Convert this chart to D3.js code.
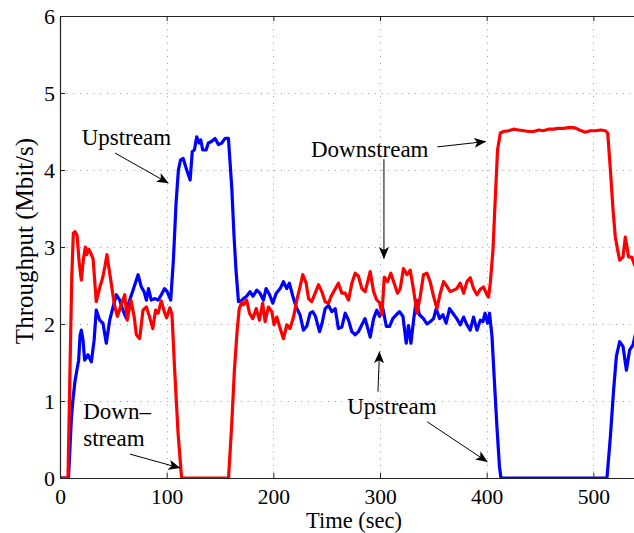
<!DOCTYPE html>
<html>
<head>
<meta charset="utf-8">
<script src="https://cdn.jsdelivr.net/npm/d3@7"></script>
<style>
  html, body { margin: 0; padding: 0; background: #fff; }
  svg { display: block; }
  text { font-family: "Liberation Serif", "Times New Roman", serif; fill: #000; }
</style>
</head>
<body>
<svg id="chart" width="634" height="533"></svg>
<script>
// ---------------- data ----------------
const xTicks = [0, 100, 200, 300, 400, 500];
const yTicks = [0, 1, 2, 3, 4, 5, 6];
const xLabel = "Time (sec)";
const yLabel = "Throughput (Mbit/s)";

const downTime = [0, 7.5, 9.5, 11, 12.5, 14, 16, 18, 20, 22, 23.8, 25, 27, 28.5, 31, 34, 37, 40, 42, 44, 48, 51, 53.8, 57.6, 60.7, 63, 66.5, 69.6, 71.6, 74.7, 77.8, 81, 84, 87, 89.6, 92, 95, 98, 100, 103, 105, 107.5, 110.7, 114,
  158, 161, 163.5, 166, 168, 170.5, 172, 175, 177.7, 180.7, 184, 187, 190, 192.3, 195.4, 198.6, 200.7, 203.2, 206.4, 209.5, 212.6, 215.7, 218.9, 222, 225, 227.6, 230.8, 233, 236, 239.2, 242.3, 245.5, 248.6, 251.8, 254.2, 257.4, 261, 264.2, 267.4, 270.5, 273.6, 276.7, 279.8, 283, 286.1, 290.8, 294, 297, 299.6, 301.8, 304, 307, 310.2, 313.3, 316.4, 319, 322, 325.3, 328.3, 331.5, 334.6, 337.7, 340.8, 344, 347, 350.2, 353.4, 356.5, 359.6, 362.7, 365.8, 369, 372, 375.2, 378.4, 381.5, 384.6, 387.7, 390.9, 394, 397, 400.3, 401.8, 403.4, 405.9, 408, 410.2, 412.8, 415.9, 420.6, 425.2, 430, 435, 439.3, 444, 449, 453, 458, 462.8, 467, 472, 476.8, 481, 484, 487, 492.5, 497, 502, 507, 511.3, 513.5, 516, 518.5, 520.6, 522.8, 524.7, 527.8, 530, 533.1, 536, 538.5, 542, 546];
const downValues = [0, 0, 1.5, 2.6, 3.18, 3.2, 3.15, 2.8, 2.57, 2.85, 3.0, 2.9, 2.97, 2.93, 2.85, 2.29, 2.46, 2.6, 2.74, 2.9, 2.53, 2.25, 2.1, 2.26, 2.38, 2.05, 2.31, 2.09, 1.86, 1.81, 2.18, 2.22, 2.09, 1.94, 2.18, 2.14, 2.3, 2.15, 2.08, 2.21, 2.12, 1.4, 0.58, 0,
  0, 0.7, 1.4, 1.9, 2.2, 2.28, 2.25, 2.31, 2.14, 2.07, 2.2, 2.05, 2.27, 2.03, 2.22, 2.16, 1.99, 2.09, 1.94, 1.81, 1.99, 1.94, 2.09, 2.31, 2.48, 2.64, 2.53, 2.33, 2.29, 2.4, 2.51, 2.42, 2.29, 2.27, 2.36, 2.44, 2.53, 2.4, 2.4, 2.31, 2.53, 2.66, 2.62, 2.46, 2.42, 2.68, 2.42, 2.31, 2.28, 2.12, 2.61, 2.55, 2.66, 2.53, 2.4, 2.46, 2.72, 2.64, 2.7, 2.44, 2.14, 2.36, 2.64, 2.66, 2.55, 2.36, 2.2, 2.4, 2.55, 2.49, 2.42, 2.44, 2.46, 2.53, 2.4, 2.55, 2.6, 2.46, 2.38, 2.45, 2.48, 2.38, 2.35, 2.53, 2.96, 3.61, 4.26, 4.48, 4.5, 4.51, 4.53, 4.52, 4.51, 4.5, 4.5, 4.52, 4.51, 4.53, 4.53, 4.54, 4.54, 4.55, 4.55, 4.54, 4.52, 4.49, 4.51, 4.51, 4.52, 4.51, 4.48, 4.0, 3.48, 3.13, 2.96, 2.83, 2.87, 3.13, 2.87, 2.87, 2.77, 2.7, 2.6];

const upTime = [0, 8, 10.6, 12, 14, 15.3, 17.5, 18.8, 20, 21.6, 23.1, 26.2, 29.4, 32, 34, 37.2, 40.3, 43.4, 46.6, 49.7, 52.8, 56, 59, 62, 64.3, 67.5, 70.6, 73.2, 76.3, 78.8, 81, 83, 85.6, 88.7, 92, 95, 98, 100.5, 103.8, 106.3, 108.8, 111, 113, 115.5, 118.8, 122, 124, 126, 128.2, 130.4, 132, 133.8, 137, 139, 142, 145.4, 148.5, 151.7, 154.8, 157.9, 161, 163.2, 165, 167.3, 170, 172, 175, 178.2, 181, 184.5, 187.5, 190.7, 193.2, 196.5, 199.5, 202.7, 206.4, 209.5, 212.6, 215, 218.3, 221.4, 225, 228.2, 231.3, 234.5, 237, 239.5, 243.3, 245.5, 248.6, 251.8, 254.9, 258, 261, 264.2, 267.4, 270.5, 273.6, 276.7, 279.8, 283, 286, 290.8, 294, 297, 299.6, 302.7, 305.9, 309, 312, 315.3, 318.3, 321.5, 324.6, 326.7, 329, 331.5, 334, 337, 340.8, 344, 347, 350.2, 352.7, 355.8, 359, 362, 365.2, 368.3, 372, 375.2, 378.4, 381.5, 384.6, 387.7, 390.9, 394, 396.5, 398.5, 400.8, 402.7, 405, 407, 409.6, 412, 413.4, 512.8, 516, 519, 521.6, 524.7, 527.8, 531, 534, 537.2, 540, 546];
const upValues = [0, 0, 0.75, 1.0, 1.25, 1.36, 1.53, 1.85, 1.92, 1.79, 1.53, 1.6, 1.51, 1.79, 2.18, 2.05, 2.01, 1.75, 2.05, 2.22, 2.38, 2.31, 2.18, 2.08, 2.27, 2.4, 2.53, 2.64, 2.48, 2.42, 2.31, 2.46, 2.31, 2.33, 2.31, 2.38, 2.46, 2.42, 2.31, 2.83, 3.57, 4.0, 4.13, 4.15, 4.0, 3.87, 4.24, 4.26, 4.43, 4.35, 4.39, 4.26, 4.26, 4.35, 4.37, 4.41, 4.33, 4.35, 4.41, 4.41, 3.78, 3.13, 2.7, 2.29, 2.3, 2.33, 2.36, 2.42, 2.36, 2.44, 2.4, 2.31, 2.46, 2.38, 2.27, 2.4, 2.46, 2.55, 2.46, 2.53, 2.36, 2.22, 2.12, 1.92, 1.97, 2.14, 2.16, 2.1, 1.9, 2.0, 2.2, 2.24, 2.16, 2.2, 1.94, 1.96, 2.14, 2.05, 1.9, 1.86, 1.9, 1.99, 2.07, 1.83, 2.07, 2.18, 2.1, 2.2, 1.97, 1.97, 2.07, 2.12, 2.16, 2.1, 1.75, 1.98, 1.75, 2.05, 2.31, 2.12, 2.07, 2.0, 2.03, 2.07, 2.2, 2.07, 2.12, 2.01, 2.2, 2.14, 2.07, 1.99, 2.09, 1.99, 1.92, 2.09, 1.92, 2.05, 2.03, 2.14, 2.01, 2.14, 1.84, 1.32, 0.67, 0.15, 0, 0, 0.54, 1.14, 1.58, 1.77, 1.71, 1.4, 1.66, 1.73, 1.9, 2.1];

const annotationTexts = ["Upstream", "Downstream", "Down\u2013", "stream", "Upstream"];

// ---------------- chart ----------------
const svg = d3.select("#chart");
const x = d3.scaleLinear().domain([0, 600]).range([60, 700]);
const y = d3.scaleLinear().domain([0, 6]).range([478, 16]);

const defs = svg.append("defs");
defs.append("clipPath").attr("id", "plotclip")
  .append("rect").attr("x", 60).attr("y", 16).attr("width", 640).attr("height", 462);

// grid
const grid = svg.append("g").attr("stroke", "#9a9a9a").attr("stroke-width", 1).attr("stroke-dasharray", "1,5.7");
grid.selectAll("line.vx").data(xTicks.slice(1)).join("line")
  .attr("x1", d => Math.round(x(d)) + 0.5).attr("x2", d => Math.round(x(d)) + 0.5)
  .attr("y1", y(6)).attr("y2", y(0));
grid.selectAll("line.hy").data(yTicks.slice(1, -1)).join("line")
  .attr("x1", x(0)).attr("x2", x(600))
  .attr("y1", d => Math.round(y(d)) + 0.5).attr("y2", d => Math.round(y(d)) + 0.5);

// lines
const lineGen = d3.line().x(d => x(d[0])).y(d => y(d[1]));
const plotG = svg.append("g").attr("clip-path", "url(#plotclip)");
plotG.append("path").datum(d3.zip(upTime, upValues))
  .attr("d", lineGen).attr("fill", "none").attr("stroke", "#0000ff")
  .attr("stroke-width", 3.2).attr("stroke-linejoin", "round");
plotG.append("path").datum(d3.zip(downTime, downValues))
  .attr("d", lineGen).attr("fill", "none").attr("stroke", "#ff0000")
  .attr("stroke-width", 3.2).attr("stroke-linejoin", "round");

// axes
const axisColor = "#222";
const axBottom = svg.append("g").attr("transform", `translate(0,${y(0)})`)
  .call(d3.axisBottom(x).tickValues(xTicks).tickSize(-5).tickSizeOuter(0).tickFormat(d3.format("d")));
axBottom.selectAll("text").attr("y", 25.5).attr("dy", 0).style("font-size", "21.5px");
const axTop = svg.append("g").attr("transform", `translate(0,${y(6)})`)
  .call(d3.axisTop(x).tickValues(xTicks).tickSize(-5).tickSizeOuter(0).tickFormat(""));
const axLeft = svg.append("g").attr("transform", `translate(${x(0)},0)`)
  .call(d3.axisLeft(y).tickValues(yTicks).tickSize(-5).tickSizeOuter(0).tickFormat(d3.format("d")));
axLeft.selectAll("text").attr("x", -5).attr("dy", "0.36em").style("font-size", "22px");
[axBottom, axTop, axLeft].forEach(g => {
  g.select(".domain").attr("stroke", axisColor).attr("stroke-width", 1.2);
  g.selectAll(".tick line").attr("stroke", axisColor);
  g.selectAll("text").attr("fill", "#000").style("font-family", '"Liberation Serif", serif');
});

// axis labels
svg.append("text").attr("x", 354).attr("y", 528).attr("text-anchor", "middle")
  .style("font-size", "22.5px").text(xLabel);
svg.append("text").attr("transform", `translate(33,${(y(0) + y(6)) / 2 - 6}) rotate(-90)`)
  .attr("text-anchor", "middle").style("font-size", "25px").text(yLabel);

// annotations (placed in data coordinates)
const marker = defs.append("marker").attr("id", "arrow")
  .attr("viewBox", "0 0 12 10").attr("refX", 11.5).attr("refY", 5)
  .attr("markerWidth", 12).attr("markerHeight", 10).attr("markerUnits", "userSpaceOnUse")
  .attr("orient", "auto");
marker.append("path").attr("d", "M0,0 L12,5 L0,10 L3,5 Z").attr("fill", "#000");

const ann = svg.append("g");
function addLabel(txt, tx, ty) {
  ann.append("text").attr("x", x(tx)).attr("y", y(ty)).style("font-size", "23px").text(txt);
}
function addArrow(x1, y1, x2, y2) {
  ann.append("line").attr("x1", x(x1)).attr("y1", y(y1)).attr("x2", x(x2)).attr("y2", y(y2))
    .attr("stroke", "#000").attr("stroke-width", 1).attr("marker-end", "url(#arrow)");
}
addLabel(annotationTexts[0], 20.3, 4.33);
addArrow(51.6, 4.22, 101.5, 3.83);
addLabel(annotationTexts[1], 235.3, 4.17);
addArrow(353.7, 4.30, 399.1, 4.37);
addArrow(303.7, 4.14, 303.7, 2.85);
addLabel(annotationTexts[2], 21.8, 0.76);
addLabel(annotationTexts[3], 21.8, 0.41);
addArrow(65.6, 0.31, 112.5, 0.13);
addLabel(annotationTexts[4], 269.3, 0.83);
addArrow(298.1, 1.12, 299.5, 1.64);
addArrow(344.3, 0.73, 400.6, 0.21);
</script>
</body>
</html>
